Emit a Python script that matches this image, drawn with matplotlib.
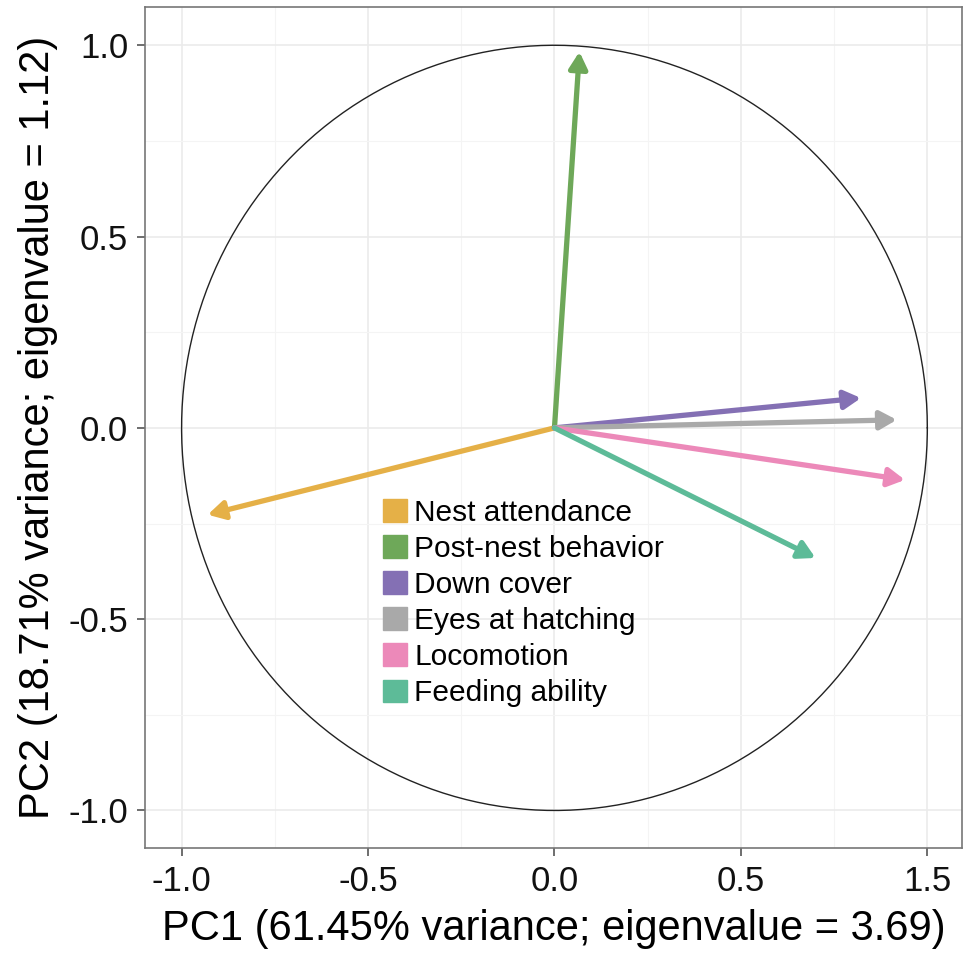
import numpy as np
import matplotlib
matplotlib.use('Agg')
import matplotlib.pyplot as plt
import matplotlib.patches as mpatches

plt.rcParams['font.family'] = ['Liberation Sans', 'DejaVu Sans']

# loadings (PC1, PC2)
traits = ['Nest attendance', 'Post-nest behavior', 'Down cover',
          'Eyes at hatching', 'Locomotion', 'Feeding ability']
pc1 = [-0.93, 0.067, 0.822, 0.918, 0.94, 0.70]
pc2 = [-0.227, 0.983, 0.078, 0.021, -0.136, -0.34]
colors = ['#E5B047', '#6EA859', '#8470B4', '#A9A9A9', '#EC89B9', '#5DBB98']

xticks = [-1.0, -0.5, 0.0, 0.5, 1.0]
xticklabels = ['-1.0', '-0.5', '0.0', '0.5', '1.5']
yticks = [-1.0, -0.5, 0.0, 0.5, 1.0]
yticklabels = ['-1.0', '-0.5', '0.0', '0.5', '1.0']

fig = plt.figure(figsize=(9.63, 9.72), dpi=100)
ax = fig.add_axes([0.1506, 0.1276, 0.848, 0.8652])

ax.set_xlim(-1.098, 1.092)
ax.set_ylim(-1.098, 1.10)

# grid like theme_bw
ax.set_xticks(xticks)
ax.set_yticks(yticks)
ax.set_xticks([-0.75, -0.25, 0.25, 0.75], minor=True)
ax.set_yticks([-0.75, -0.25, 0.25, 0.75], minor=True)
ax.grid(True, which='major', color='#EBEBEB', lw=1.2)
ax.grid(True, which='minor', color='#F4F4F4', lw=0.8)
ax.set_axisbelow(True)
ax.tick_params(which='minor', length=0)
ax.tick_params(which='major', length=6, width=1.2, color='#555555',
               labelsize=25, labelcolor='#111111', pad=6)
ax.set_xticklabels(xticklabels)
ax.set_yticklabels(yticklabels)
for s in ax.spines.values():
    s.set_color('#777777')
    s.set_linewidth(1.2)

# correlation circle
t = np.linspace(0, 2 * np.pi, 400)
ax.plot(np.cos(t), np.sin(t), color='#222222', lw=1.0, zorder=2)

for i in range(len(traits)):
    ax.annotate('', xy=(pc1[i], pc2[i]), xytext=(0, 0),
                arrowprops=dict(arrowstyle='-|>,head_length=0.45,head_width=0.25',
                                color=colors[i], lw=3.8,
                                mutation_scale=22, shrinkA=0, shrinkB=0),
                zorder=3)

handles = [mpatches.Patch(color=c, label=l) for c, l in zip(colors, traits)]
ax.legend(handles=handles, loc='upper left', bbox_to_anchor=(383 / 963, 1 - 499 / 972),
          bbox_transform=fig.transFigure, frameon=False, fontsize=21.5,
          handlelength=0.8, handleheight=0.8, handletextpad=0.25,
          labelspacing=0.27, borderpad=0, borderaxespad=0)

ax.set_xlabel('PC1 (61.45% variance; eigenvalue = 3.69)', fontsize=30, labelpad=8)
ax.set_ylabel('PC2 (18.71% variance; eigenvalue = 1.12)', fontsize=30, labelpad=8)

fig.savefig('out.png', dpi=100)
